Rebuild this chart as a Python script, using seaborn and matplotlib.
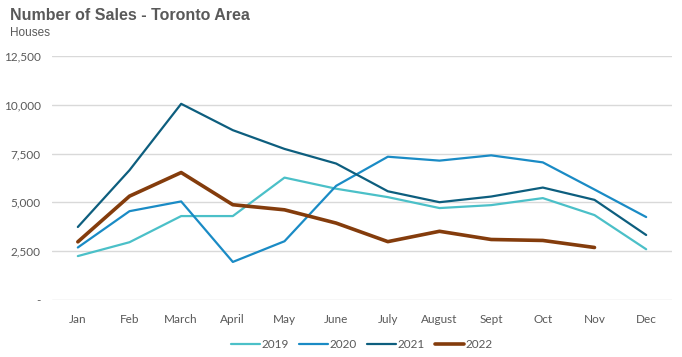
import pandas as pd
import numpy as np
import matplotlib
matplotlib.use("Agg")
import matplotlib.pyplot as plt
import seaborn as sns
from matplotlib.ticker import FuncFormatter

# Data
months = ["Jan", "Feb", "March", "April", "May", "June", "July",
          "August", "Sept", "Oct", "Nov", "Dec"]
sales_2019 = [2250, 2960, 4300, 4300, 6270, 5700, 5270, 4710, 4860, 5220, 4350, 2600]
sales_2020 = [2690, 4550, 5050, 1950, 3010, 5850, 7340, 7140, 7410, 7050, 5660, 4250]
sales_2021 = [3740, 6650, 10050, 8700, 7740, 6990, 5570, 5010, 5300, 5760, 5130, 3330]
sales_2022 = [2980, 5320, 6530, 4880, 4620, 3940, 2990, 3520, 3100, 3050, 2690]

series = {"2019": sales_2019, "2020": sales_2020, "2021": sales_2021, "2022": sales_2022}
colors = {"2019": "#4BC0C8", "2020": "#1A8BC5", "2021": "#0D5E7E", "2022": "#843C0C"}
widths = {"2019": 1.6, "2020": 1.6, "2021": 1.6, "2022": 2.6}

rows = []
for yr, vals in series.items():
    for i, v in enumerate(vals):
        rows.append({"month": i, "sales": v, "year": yr})
df = pd.DataFrame(rows)

sns.set_style("white")
plt.rcParams['font.family'] = ['Lato', 'DejaVu Sans']

fig = plt.figure(figsize=(6.82, 3.57), dpi=100)
ax = fig.add_axes([52/682, 1-300/357, 620/682, 244/357])

for yr in series:
    sns.lineplot(data=df[df.year == yr], x="month", y="sales", ax=ax,
                 color=colors[yr], linewidth=widths[yr], label=yr)

ax.set_xlim(-0.5, 11.5)
ax.set_ylim(0, 12500)
ax.set_yticks(np.arange(0, 12501, 2500))
ax.yaxis.set_major_formatter(FuncFormatter(lambda v, p: "-" if v == 0 else f"{int(v):,}"))
ax.set_xticks(range(12))
ax.set_xticklabels(months)
ax.grid(axis="y", color="#D9D9D9", linewidth=1)
ax.set_axisbelow(True)
for s in ["top", "right", "left", "bottom"]:
    ax.spines[s].set_visible(False)
ax.tick_params(axis="both", length=0, labelsize=8.5, colors="#595959", pad=8)
ax.tick_params(axis="x", pad=10)
ax.set_xlabel("")
ax.set_ylabel("")

ax.legend(loc="upper center", bbox_to_anchor=(0.5, -0.115), ncol=4, frameon=False,
          fontsize=8.5, labelcolor="#595959", handlelength=2.4, handletextpad=0.15,
          columnspacing=0.9)

fig.text(10/682, 1-16/357, "Number of Sales - Toronto Area", fontsize=11.5,
         fontweight="bold", color="#595959", family="Liberation Sans", va="center")
fig.text(10/682, 1-33/357, "Houses", fontsize=8.5, color="#595959",
         family="Liberation Sans", va="center")

fig.savefig("out.png", dpi=100)
